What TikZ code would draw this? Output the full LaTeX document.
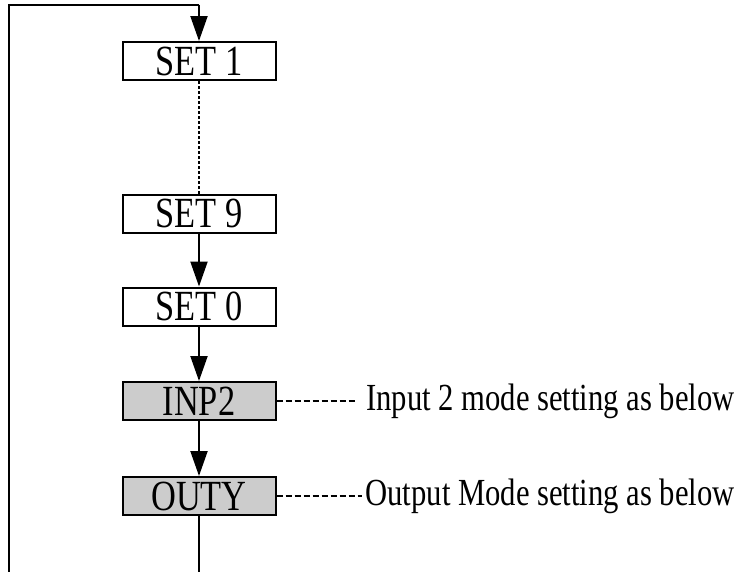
\documentclass[tikz,border=0pt]{standalone}
\usepackage{fontspec}
\setmainfont{Liberation Serif}
\newfontfamily\narrowfont[FakeStretch=0.8]{Liberation Serif}
\usetikzlibrary{arrows.meta}
\begin{document}
\begin{tikzpicture}[x=1pt,y=-1pt,
  box/.style={draw,line width=2pt,minimum width=153pt,minimum height=38pt,inner sep=0pt,
    font=\narrowfont\fontsize{43}{43}\selectfont},
  grey/.style={box,fill=black!20},
  conn/.style={line width=2pt},
  arr/.style={conn,-{Triangle[length=25pt,width=17pt]}},
  dotline/.style={line width=1.2pt,dash pattern=on 3pt off 2pt},
  note/.style={line width=1.2pt,dash pattern=on 6pt off 3pt},
  lbl/.style={anchor=east,inner sep=0pt,font=\narrowfont\fontsize{38.3}{38.3}\selectfont}]
\useasboundingbox (0,0) rectangle (737,571);
\node[box]  (s1) at (199,61) {SET 1};
\node[box]  (s9) at (199,213.5) {SET 9};
\node[box]  (s0) at (199,306.5) {SET 0};
\node[grey] (inp) at (199,401) {INP2};
\node[grey] (out) at (199,496) {OUTY};
\coordinate (bl) at (9,572);
\coordinate (tl) at (9,4.5);
\coordinate (tr) at (199,4.5);
\coordinate (br) at (199,572);
\draw[conn] (bl) -- (tl) -- (tr);
\draw[arr] (tr) -- (s1.north);
\draw[dotline] (s1.south) -- (s9.north);
\draw[arr] (s9.south) -- (s0.north);
\draw[arr] (s0.south) -- (inp.north);
\draw[arr] (inp.south) -- (out.north);
\draw[conn] (out.south) -- (br);
\node[lbl] (t1) at (735,401) {Input 2 mode setting as below};
\node[lbl] (t2) at (735,496) {Output Mode setting as below};
\coordinate (e1) at ([xshift=-10pt]t1.west);
\coordinate (e2) at ([xshift=-3pt]t2.west);
\draw[note] (inp.east) -- (e1);
\draw[note] (out.east) -- (e2);
\end{tikzpicture}
\end{document}
